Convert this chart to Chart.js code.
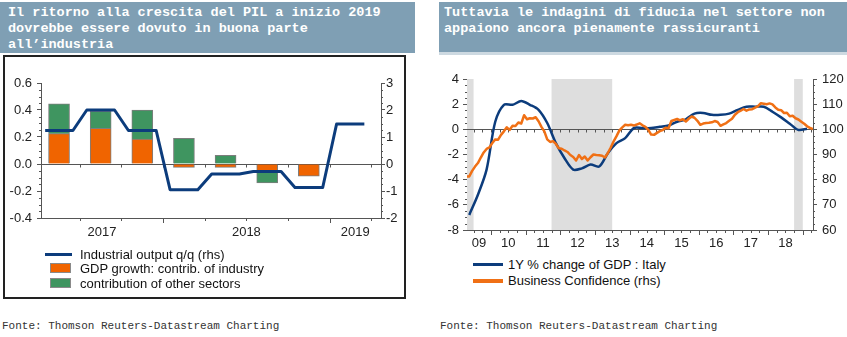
<!DOCTYPE html>
<html>
<head>
<meta charset="utf-8">
<script src="https://cdn.jsdelivr.net/npm/chart.js@4.4.1/dist/chart.umd.min.js"></script>
<style>
  body { margin: 0; width: 847px; height: 337px; background: #fff; position: relative; overflow: hidden; }
  .title { position: absolute; background: #7f9fb4; color: #fff; box-sizing: border-box;
           font: bold 13.5px/16.2px "Liberation Mono", "Courier New", monospace; white-space: nowrap; }
  #t1 { left: 0; top: 2px; width: 415px; height: 51px; padding: 3px 0 0 8px; }
  #t2 { left: 439px; top: 2px; width: 408px; height: 53px; padding: 3px 0 0 5px; line-height: 16px;
        border-bottom: 3px solid #cdd9e1; }
  #frame { position: absolute; left: 3px; top: 55px; width: 403px; height: 244px; border: 2px solid #222; box-sizing: border-box; }
  canvas { position: absolute; }
  .src { position: absolute; top: 319px; font: 11px/14px "Liberation Mono", "Courier New", monospace; color: #333; white-space: nowrap; }
  .leg { position: absolute; font: 13px/15px "Liberation Sans", Arial, sans-serif; color: #111; white-space: nowrap; }
  .sw { position: absolute; box-sizing: border-box; }
</style>
</head>
<body>
<div class="title" id="t1">Il ritorno alla crescita del PIL a inizio 2019<br>dovrebbe essere dovuto in buona parte<br>all’industria</div>
<div class="title" id="t2">Tuttavia le indagini di fiducia nel settore non<br>appaiono ancora pienamente rassicuranti</div>
<div id="frame"></div>

<canvas id="c1" width="400" height="190" style="left:4px;top:60px"></canvas>
<canvas id="c2" width="417" height="190" style="left:430px;top:60px"></canvas>

<!-- legends -->
<div class="sw" style="left:45px;top:252.5px;width:27px;height:3px;background:#0c3c7c"></div>
<div class="leg" style="left:80px;top:246.5px">Industrial output q/q (rhs)</div>
<div class="sw" style="left:50px;top:263px;width:21px;height:10px;background:#f06400;border:1px solid #8a8a8a"></div>
<div class="leg" style="left:80px;top:260.8px">GDP growth: contrib. of industry</div>
<div class="sw" style="left:50px;top:278px;width:21px;height:10px;background:#3f9560;border:1px solid #8a8a8a"></div>
<div class="leg" style="left:80px;top:275.8px">contribution of other sectors</div>

<div class="sw" style="left:473px;top:262.8px;width:30px;height:3px;background:#0c3c7c"></div>
<div class="leg" style="left:508px;top:256.8px">1Y % change of GDP : Italy</div>
<div class="sw" style="left:473px;top:278.7px;width:30px;height:4px;background:#f07015"></div>
<div class="leg" style="left:508px;top:273.2px">Business Confidence (rhs)</div>

<div class="src" style="left:2px">Fonte: Thomson Reuters-Datastream Charting</div>
<div class="src" style="left:440px">Fonte: Thomson Reuters-Datastream Charting</div>

<script>
// ---------- Data: left chart, quarters Q2 2017 .. Q1 2019 ----------
const quarterLabels    = ['Q2 17', 'Q3 17', 'Q4 17', 'Q1 18', 'Q2 18', 'Q3 18', 'Q4 18', 'Q1 19'];
const industryContrib  = [0.225, 0.265, 0.185, -0.025, -0.025, -0.06, -0.09, null];
const otherContrib     = [0.22, 0.125, 0.215, 0.19, 0.065, -0.08, null, null];
const industrialOutput = [1.24, 2.0, 1.24, -0.95, -0.37, -0.28, -0.87, 1.48];
const leftYears        = [2017, 2018, 2019];
const leftYearLabels   = ['2017', '2018', '2019'];

// ---------- Data: right chart ----------
// GDP y/y, quarterly from 2009 Q2
const gdpStart = { year: 2009, quarter: 2 };
const gdpYoY = [
  -6.8, -5.2, -3.2,
  0.6, 1.95, 1.95, 2.25,
  1.95, 1.55, 0.5, -1.1,
  -2.3, -3.2, -3.1, -2.8,
  -2.95, -1.9, -1.1, -0.7,
  0.1, 0.1, 0.1, 0.2,
  0.3, 0.6, 0.8, 1.25,
  1.3, 1.15, 1.15, 1.25,
  1.55, 1.8, 1.8, 1.8,
  1.4, 0.95, 0.45, -0.05,
  0.05
];
// Business confidence, monthly from Apr 2009
const confStart = { year: 2009, month: 4 };
const businessConf = [
  81.3, 81.3, 83.5, 85.2, 86.6, 88.8, 90.8, 92.2, 92.8,
  94.6, 96.0, 95.9, 97.8, 99.2, 100.8, 99.8, 101.4, 101.3, 102.7, 102.3, 105.6,
  104.0, 104.4, 104.3, 104.8, 103.2, 101.0, 99.2, 96.0, 95.0, 95.3, 94.2, 92.5,
  92.3, 91.6, 91.0, 89.8, 89.0, 87.6, 89.8, 88.2, 89.2, 87.6, 88.9, 90.0,
  89.8, 89.7, 89.5, 88.8, 90.6, 92.8, 95.2, 97.3, 99.6, 100.8, 101.8, 101.6,
  101.8, 101.5, 101.9, 102.4, 101.6, 101.0, 99.8, 97.9, 97.8, 98.6, 99.3, 99.7,
  100.6, 100.4, 103.3, 103.7, 104.1, 103.6, 104.0, 103.1, 104.2, 105.1, 104.6, 103.4,
  101.8, 102.3, 102.5, 102.6, 102.8, 103.3, 102.9, 101.4, 102.0, 102.5, 103.4, 104.2,
  105.8, 106.8, 107.4, 108.1, 107.4, 107.9, 108.0, 108.6, 109.2, 110.4, 110.2, 110.0,
  110.3, 109.9, 108.7, 107.8, 107.6, 106.5, 106.6, 105.2, 105.4, 104.4, 103.9, 103.0,
  102.2, 101.2, 100.6, 100.1
];
const recessions = [[2009.25, 2009.5], [2011.75, 2013.5], [2018.75, 2019.0]];
const rightYears = [2009, 2010, 2011, 2012, 2013, 2014, 2015, 2016, 2017, 2018];
const rightYearLabels = ['09', '10', '11', '12', '13', '14', '15', '16', '17', '18'];

// ---------- Style ----------
const NAVY = '#0c3c7c';
const ORANGE = '#f06400';
const ORANGE_LINE = '#f07015';
const GREEN = '#3f9560';
const AXIS = '#555';
const TICK_FONT = { family: '"Liberation Sans", Arial, sans-serif', size: 13 };
const TICK_COLOR = '#222';

// ---------- Plugin: minor ticks, x tick marks, zero line, shaded bands ----------
const axisMarks = {
  id: 'axisMarks',
  beforeDatasetsDraw(chart, args, opts) {
    const { ctx, chartArea: a, scales } = chart;
    const x = scales.x, y = scales.y;
    ctx.save();
    (opts.bands || []).forEach(([b0, b1]) => {
      const x0 = Math.max(a.left, x.getPixelForValue(b0));
      const x1 = Math.min(a.right, x.getPixelForValue(b1));
      if (x1 > x0) {
        ctx.fillStyle = opts.bandColor;
        ctx.fillRect(x0, a.top, x1 - x0, a.bottom - a.top);
      }
    });
    // zero line
    const zy = Math.round(y.getPixelForValue(0)) + 0.5;
    ctx.strokeStyle = AXIS;
    ctx.lineWidth = 1;
    ctx.beginPath();
    ctx.moveTo(a.left, zy);
    ctx.lineTo(a.right, zy);
    (opts.xMarks || []).forEach(m => {
      const px = Math.round(x.getPixelForValue(m.v)) + 0.5;
      ctx.moveTo(px, zy);
      ctx.lineTo(px, zy + 3);
    });
    ctx.stroke();
    ctx.restore();
  },
  afterDraw(chart, args, opts) {
    const { ctx, chartArea: a, scales } = chart;
    const x = scales.x;
    ctx.save();
    ctx.strokeStyle = AXIS;
    ctx.lineWidth = 1;
    ctx.beginPath();
    (opts.xMarks || []).forEach(m => {
      const px = Math.round(x.getPixelForValue(m.v)) + 0.5;
      ctx.moveTo(px, a.bottom);
      ctx.lineTo(px, a.bottom + m.len);
    });
    Object.entries(opts.minor || {}).forEach(([id, [minor, major]]) => {
      const s = scales[id];
      for (let i = 0; ; i++) {
        const v = s.min + i * minor;
        if (v > s.max + 1e-9) break;
        const r = (v - s.min) / major;
        if (Math.abs(r - Math.round(r)) < 1e-6) continue;
        const py = Math.round(s.getPixelForValue(v)) + 0.5;
        if (s.position === 'left') { ctx.moveTo(a.left - 2, py); ctx.lineTo(a.left, py); }
        else { ctx.moveTo(a.right, py); ctx.lineTo(a.right + 2, py); }
      }
    });
    ctx.stroke();
    ctx.restore();
  }
};

// centre of the visible part of each year
const yearCentres = (starts, len, min, max) =>
  starts.map(s => (Math.max(min, s) + Math.min(max, s + len)) / 2);

// ---------- Left chart ----------
// x unit = month index, 0 = April 2017
const L_MIN = -0.3, L_MAX = 24.2;
const leftYearStarts = leftYears.map(yr => (yr - 2017) * 12 - 3.5);
const leftLabelPos = yearCentres(leftYearStarts, 12, L_MIN, L_MAX);
const leftMarks = [];
for (let k = 0; k < 10; k++) {
  const v = 3 * k - 0.5;
  if (v > L_MIN && v < L_MAX) leftMarks.push({ v, len: leftYearStarts.includes(v) ? 5 : 3 });
}

const barPts = arr => arr.map((v, q) => v === null ? null : { x: 3 * q + 1, y: v }).filter(Boolean);
const outputPts = industrialOutput.flatMap((v, q) => [0, 1, 2].map(m => ({ x: 3 * q + m, y: v })));

new Chart(document.getElementById('c1'), {
  type: 'bar',
  data: {
    datasets: [
      { type: 'line', label: 'Industrial output q/q (rhs)', data: outputPts, yAxisID: 'y2',
        borderColor: NAVY, borderWidth: 3, pointRadius: 0, tension: 0, borderJoinStyle: 'round', order: 0 },
      { label: 'GDP growth: contrib. of industry', data: barPts(industryContrib), yAxisID: 'y', stack: 's',
        backgroundColor: ORANGE, borderColor: '#7d7d7d', borderWidth: 1, barThickness: 21, order: 1 },
      { label: 'contribution of other sectors', data: barPts(otherContrib), yAxisID: 'y', stack: 's',
        backgroundColor: GREEN, borderColor: '#7d7d7d', borderWidth: 1, barThickness: 21, order: 1 }
    ]
  },
  options: {
    responsive: false,
    animation: false,
    devicePixelRatio: 1,
    layout: { padding: { top: 23, left: 0, right: 0, bottom: 0 } },
    plugins: {
      legend: { display: false },
      tooltip: { enabled: false },
      axisMarks: { xMarks: leftMarks, minor: { y: [0.05, 0.2], y2: [0.25, 1] } }
    },
    scales: {
      x: {
        type: 'linear', min: L_MIN, max: L_MAX, stacked: true, offset: false,
        grid: { display: false, drawTicks: false, offset: false },
        border: { display: true, color: AXIS, width: 1 },
        ticks: { autoSkip: false, maxRotation: 0, padding: 7, font: TICK_FONT, color: TICK_COLOR,
                 callback: (v, i) => leftYearLabels[i] },
        afterBuildTicks: s => { s.ticks = leftLabelPos.map(v => ({ value: v })); },
        afterFit: s => { s.height = 32; }
      },
      y: {
        position: 'left', min: -0.4, max: 0.6, stacked: true,
        grid: { drawOnChartArea: false, tickLength: 4, color: AXIS },
        border: { color: AXIS, width: 1 },
        ticks: { stepSize: 0.2, padding: 5, font: TICK_FONT, color: TICK_COLOR,
                 callback: v => (Math.abs(v) < 1e-9 ? 0 : v).toFixed(1) },
        afterFit: s => { s.width = 37; }
      },
      y2: {
        position: 'right', min: -2, max: 3, stacked: false,
        grid: { drawOnChartArea: false, tickLength: 4, color: AXIS },
        border: { color: AXIS, width: 1 },
        ticks: { stepSize: 1, padding: 1, font: TICK_FONT, color: TICK_COLOR },
        afterFit: s => { s.width = 23; }
      }
    }
  },
  plugins: [axisMarks]
});

// ---------- Right chart ----------
// x unit = fractional year
const R_MIN = 2009.31, R_MAX = 2019.295;
const rightLabelPos = yearCentres(rightYears, 1, R_MIN, R_MAX);
const rightMarks = [];
for (let yr = 2009; yr <= 2019; yr++) {
  for (let k = 0; k < 4; k++) {
    const v = yr + k / 4;
    if (v > R_MIN && v < R_MAX) rightMarks.push({ v, len: k === 0 ? 5 : 3 });
  }
}
const gdpPts = gdpYoY.map((v, i) => ({ x: gdpStart.year + (gdpStart.quarter - 1 + i + 0.5) / 4, y: v }));
const confPts = businessConf.map((v, i) => ({ x: confStart.year + (confStart.month - 1 + i + 0.5) / 12, y: v }));

new Chart(document.getElementById('c2'), {
  type: 'line',
  data: {
    datasets: [
      { label: 'Business Confidence (rhs)', data: confPts, yAxisID: 'y2',
        borderColor: ORANGE_LINE, borderWidth: 2.5, pointRadius: 0, tension: 0, borderJoinStyle: 'round', order: 0 },
      { label: '1Y % change of GDP : Italy', data: gdpPts, yAxisID: 'y',
        borderColor: NAVY, borderWidth: 2.5, pointRadius: 0, tension: 0.3, borderJoinStyle: 'round', order: 1 }
    ]
  },
  options: {
    responsive: false,
    animation: false,
    devicePixelRatio: 1,
    layout: { padding: { top: 19, left: 0, right: 0, bottom: 0 } },
    plugins: {
      legend: { display: false },
      tooltip: { enabled: false },
      axisMarks: { xMarks: rightMarks, bands: recessions, bandColor: '#dedede',
                   minor: { y: [0.5, 2], y2: [2.5, 10] } }
    },
    scales: {
      x: {
        type: 'linear', min: R_MIN, max: R_MAX,
        grid: { display: false, drawTicks: false },
        border: { display: true, color: AXIS, width: 1 },
        ticks: { autoSkip: false, maxRotation: 0, padding: 6, font: TICK_FONT, color: TICK_COLOR,
                 callback: (v, i) => rightYearLabels[i] },
        afterBuildTicks: s => { s.ticks = rightLabelPos.map(v => ({ value: v })); },
        afterFit: s => { s.height = 20; }
      },
      y: {
        position: 'left', min: -8, max: 4,
        grid: { drawOnChartArea: false, tickLength: 4, color: AXIS },
        border: { color: AXIS, width: 1 },
        ticks: { stepSize: 2, padding: 4, font: TICK_FONT, color: TICK_COLOR },
        afterFit: s => { s.width = 37; }
      },
      y2: {
        position: 'right', min: 60, max: 120,
        grid: { drawOnChartArea: false, tickLength: 4, color: AXIS },
        border: { color: AXIS, width: 1 },
        ticks: { stepSize: 10, padding: 5, font: TICK_FONT, color: TICK_COLOR },
        afterFit: s => { s.width = 34; }
      }
    }
  },
  plugins: [axisMarks]
});
</script>
</body>
</html>
